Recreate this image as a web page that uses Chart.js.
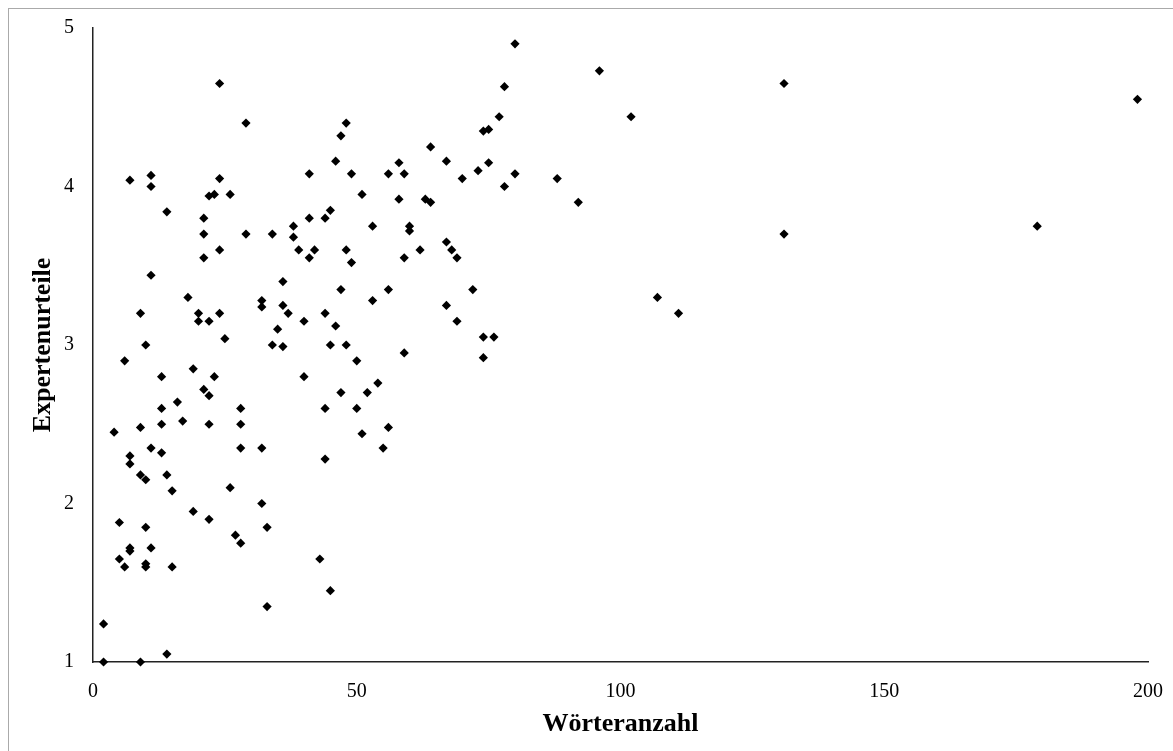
<!DOCTYPE html>
<html>
<head>
<meta charset="utf-8">
<script src="https://cdn.jsdelivr.net/npm/chart.js@4"></script>
<style>
  body { margin: 0; background: #fff; }
  #wrap { position: relative; width: 1173px; height: 751px; }
  #frame { position: absolute; left: 8px; top: 8px; right: 0; bottom: 0;
           border-left: 1px solid #aaa; border-top: 1px solid #aaa; pointer-events: none; }
</style>
</head>
<body>
<div id="wrap">
  <canvas id="myChart" width="1173" height="751"></canvas>
  <div id="frame"></div>
</div>
<script>
// word count (x) and expert rating (y)
const wordCounts = [
  2, 2, 9, 14,
  24, 29, 46, 7, 11, 11, 24, 41, 22, 23, 26, 14, 21, 41, 44, 45, 38, 38, 21, 29, 34,
  24, 39, 42, 41, 21, 11, 36, 18, 32, 32, 36, 37, 9, 20, 20, 22, 24, 40, 44, 46, 35,
  25, 10, 34, 36, 45,
  6, 13, 19, 23, 40, 21, 22, 16, 13, 28, 44, 13, 17, 22, 28, 4, 9, 11, 13, 28, 32, 44,
  7, 7, 9, 10, 14, 15, 26, 32, 19, 22, 5, 10, 33, 27, 28, 7, 7, 11, 5, 6, 10, 10, 15,
  43, 45, 33,
  80, 78, 77, 74, 75, 48, 47, 49, 64, 58, 56, 59, 67, 70, 73, 75, 80, 78, 88, 51, 58,
  63, 64, 53, 60, 60, 67, 68, 69, 62, 59, 48, 49, 47, 56, 72, 53, 67, 69, 48, 74, 76,
  59, 50, 74, 54, 47, 52, 50, 56, 51, 55,
  96, 102, 131, 198, 92, 131, 179, 107, 111
];
const ratings = [
  1.24, 1.00, 1.00, 1.05,
  4.65, 4.40, 4.16, 4.04, 4.07, 4.00, 4.05, 4.08, 3.94, 3.95, 3.95, 3.84, 3.80, 3.80, 3.80, 3.85, 3.75, 3.68, 3.70, 3.70, 3.70,
  3.60, 3.60, 3.60, 3.55, 3.55, 3.44, 3.40, 3.30, 3.28, 3.24, 3.25, 3.20, 3.20, 3.20, 3.15, 3.15, 3.20, 3.15, 3.20, 3.12, 3.10,
  3.04, 3.00, 3.00, 2.99, 3.00,
  2.90, 2.80, 2.85, 2.80, 2.80, 2.72, 2.68, 2.64, 2.60, 2.60, 2.60, 2.50, 2.52, 2.50, 2.50, 2.45, 2.48, 2.35, 2.32, 2.35, 2.35, 2.28,
  2.30, 2.25, 2.18, 2.15, 2.18, 2.08, 2.10, 2.00, 1.95, 1.90, 1.88, 1.85, 1.85, 1.80, 1.75, 1.72, 1.70, 1.72, 1.65, 1.60, 1.62, 1.60, 1.60,
  1.65, 1.45, 1.35,
  4.90, 4.63, 4.44, 4.35, 4.36, 4.40, 4.32, 4.08, 4.25, 4.15, 4.08, 4.08, 4.16, 4.05, 4.10, 4.15, 4.08, 4.00, 4.05, 3.95, 3.92,
  3.92, 3.90, 3.75, 3.75, 3.72, 3.65, 3.60, 3.55, 3.60, 3.55, 3.60, 3.52, 3.35, 3.35, 3.35, 3.28, 3.25, 3.15, 3.00, 3.05, 3.05,
  2.95, 2.90, 2.92, 2.76, 2.70, 2.70, 2.60, 2.48, 2.44, 2.35,
  4.73, 4.44, 4.65, 4.55, 3.90, 3.70, 3.75, 3.30, 3.20
];
const xTicks = [0, 50, 100, 150, 200];
const yTicks = [1, 2, 3, 4, 5];

const points = wordCounts.map((w, i) => ({x: w, y: ratings[i]}));
const serif = "'Liberation Serif', 'Times New Roman', serif";

new Chart("myChart", {
  type: "scatter",
  data: {
    datasets: [{
      data: points,
      pointStyle: "rectRot",
      pointRadius: 4.6,
      pointHoverRadius: 4.6,
      backgroundColor: "#000",
      borderColor: "#000",
      borderWidth: 0,
      clip: false
    }]
  },
  options: {
    responsive: false,
    animation: false,
    layout: {padding: {left: 0, top: 28, right: 25, bottom: 0}},
    plugins: {legend: {display: false}, tooltip: {enabled: false}},
    scales: {
      x: {
        type: "linear",
        min: 0, max: 200,
        afterBuildTicks: s => { s.ticks = xTicks.map(v => ({value: v})); },
        afterFit: s => { s.height = 89; s.paddingLeft = 0; s.paddingRight = 0; },
        grid: {display: false, drawTicks: false},
        border: {display: true, color: "#222", width: 1.5},
        ticks: {color: "#000", padding: 18, font: {family: serif, size: 20}},
        title: {
          display: true, text: "Wörteranzahl", color: "#000",
          font: {family: serif, size: 26, weight: "bold"},
          padding: {top: 0, bottom: 11}
        }
      },
      y: {
        type: "linear",
        min: 1, max: 5,
        afterBuildTicks: s => { s.ticks = yTicks.map(v => ({value: v})); },
        afterFit: s => { s.width = 93; s.paddingTop = 0; s.paddingBottom = 0; },
        grid: {display: false, drawTicks: false},
        border: {display: true, color: "#222", width: 1.5},
        ticks: {color: "#000", padding: 19, font: {family: serif, size: 20}},
        title: {
          display: true, text: "Expertenurteile", color: "#000",
          font: {family: serif, size: 26, weight: "bold"},
          padding: {top: 28, bottom: 0}
        }
      }
    }
  }
});
</script>
</body>
</html>
